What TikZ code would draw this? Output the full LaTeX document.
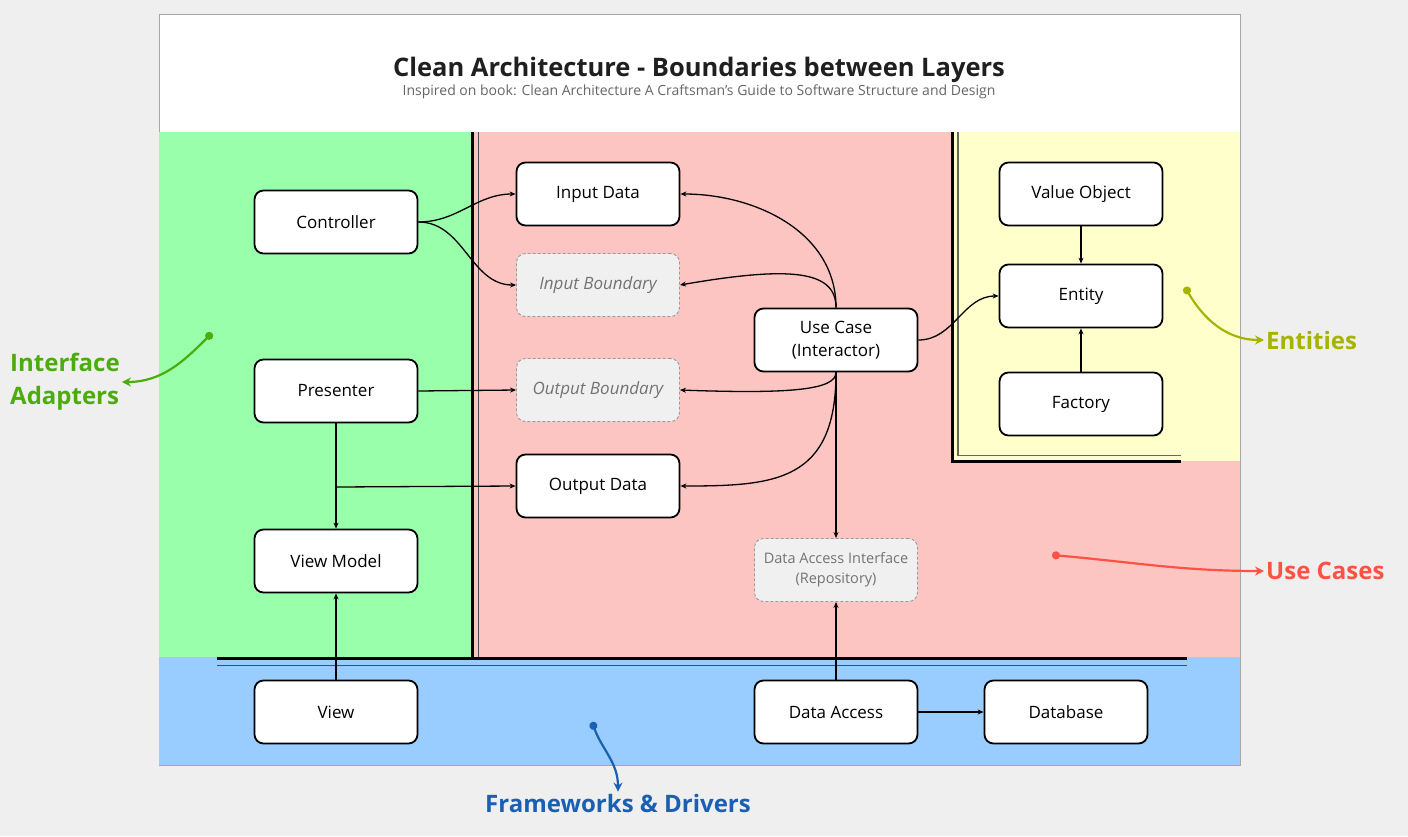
\documentclass[tikz,border=0pt]{standalone}
\usepackage{fontspec}
\setmainfont{Open Sans}
\usepackage{tikz}
\usetikzlibrary{arrows.meta, positioning}
\definecolor{bggray}{RGB}{239, 239, 239}
\definecolor{adaptgreen}{RGB}{153, 255, 170}
\definecolor{casepink}{RGB}{252, 197, 193}
\definecolor{entyellow}{RGB}{255, 255, 204}
\definecolor{frameblue}{RGB}{153, 204, 255}
\definecolor{labgreen}{RGB}{76, 172, 14}
\definecolor{labolive}{RGB}{166, 180, 0}
\definecolor{labred}{RGB}{255, 82, 68}
\definecolor{labblue}{RGB}{26, 95, 180}
\definecolor{boundgray}{RGB}{240, 240, 240}

\begin{document}
\begin{tikzpicture}[x=1pt, y=1pt,
  box/.style={draw, line width=1.8pt, rounded corners=9pt, fill=white, minimum width=163pt, minimum height=63pt, align=center, font=\fontsize{17}{21}\selectfont},
  bound/.style={box, draw=gray!80, line width=0.9pt, dash pattern=on 3pt off 2pt, fill=boundgray, text=black!55},
  link/.style={line width=1.3pt, -{Stealth[length=6pt, width=5pt]}},
  callout/.style={line width=2.2pt, {Circle[length=8pt]}-{Stealth[length=9pt, width=9pt]}},
  layer/.style={font=\fontsize{24}{33}\selectfont\bfseries, align=left, inner sep=2pt}]
  \useasboundingbox (0,0) rectangle (1408,-836);
  \fill[bggray] (0,0) rectangle (1408,-836);

  % Frame and layers
  \draw[fill=white, draw=black!35, line width=0.8pt] (159,-14) rectangle (1240,-765);
  \fill[adaptgreen] (159,-132) rectangle (474,-657);
  \fill[casepink] (474,-132) rectangle (1240,-657);
  \fill[entyellow] (952,-132) rectangle (1240,-461);
  \fill[frameblue] (159,-657) rectangle (1240,-765);

  % Title
  \node[font=\fontsize{25.5}{30}\selectfont\bfseries, text=black!88] (title) at (699,-70) {Clean Architecture - Boundaries between Layers};
  \node[font=\fontsize{14}{17}\selectfont, text=black!60] (subtitle) at (699,-92) {Inspired on book: Clean Architecture A Craftsman's Guide to Software Structure and Design};

  % Boundaries
  \draw[line width=3pt] (472,-132) -- (472,-657);
  \draw[line width=1pt, black!70] (478,-132) -- (478,-657);
  \draw[line width=3pt] (217,-658.5) -- (1187,-658.5);
  \draw[line width=1pt, black!70] (217,-665) -- (1187,-665);
  \draw[line width=3pt, line join=miter] (952.5,-132) -- (952.5,-461) -- (1181,-461);
  \draw[line width=1.2pt, black!60, line join=miter] (958,-132) -- (958,-455.5) -- (1181,-455.5);

  % Interface adapters
  \node[box] (ctrl) at (336,-222) {Controller};
  \node[box] (pres) at (336,-391) {Presenter};
  \node[box] (vmodel) at (336,-561) {View Model};

  % Use cases
  \node[box] (indata) at (598,-194) {Input Data};
  \node[bound, font=\fontsize{17}{21}\selectfont\itshape] (inbound) at (598,-285) {Input Boundary};
  \node[bound, font=\fontsize{17}{21}\selectfont\itshape] (outbound) at (598,-390) {Output Boundary};
  \node[box] (outdata) at (598,-486) {Output Data};
  \node[box, font=\fontsize{17}{23}\selectfont] (usecase) at (836,-340) {Use Case\\(Interactor)};
  \node[bound, font=\fontsize{14.5}{20}\selectfont] (dai) at (836,-570) {Data Access Interface\\(Repository)};

  % Entities
  \node[box] (vobj) at (1081,-194) {Value Object};
  \node[box] (entity) at (1081,-296) {Entity};
  \node[box] (factory) at (1081,-404) {Factory};

  % Frameworks & drivers
  \node[box] (view) at (336,-712) {View};
  \node[box] (daccess) at (836,-712) {Data Access};
  \node[box] (db) at (1066,-712) {Database};

  % Connectors
  \draw[link] (ctrl.east) to[out=0, in=180] (indata.west);
  \draw[link] (ctrl.east) to[out=0, in=180] (inbound.west);
  \draw[link] (usecase.north) to[out=90, in=0] (indata.east);
  \draw[link] (usecase.north) .. controls (836,-270) and (790,-266) .. (inbound.east);
  \draw[link] (usecase.south) .. controls (836,-390) and (790,-394) .. (outbound.east);
  \draw[link] (usecase.south) .. controls (836,-482) and (775,-486) .. (outdata.east);
  \draw[link] (usecase.south) -- (dai.north);
  \draw[link] (usecase.east) to[out=0, in=180] (entity.west);
  \draw[link] (vobj.south) -- (entity.north);
  \draw[link] (factory.north) -- (entity.south);
  \draw[link] (pres.east) -- (outbound.west);
  \draw[link] (pres.south) -- (vmodel.north);
  \coordinate (pvjoin) at (336,-487);
  \draw[link] (pvjoin) -- (outdata.west);
  \draw[link] (view.north) -- (vmodel.south);
  \draw[link] (daccess.north) -- (dai.south);
  \draw[link] (daccess.east) -- (db.west);

  % Layer labels
  \node[layer, text=labgreen, anchor=west] (ialab) at (8,-382) {Interface\\Adapters};
  \node[layer, text=labolive, anchor=west] (entlab) at (1264,-340) {Entities};
  \node[layer, text=labred, anchor=west] (uclab) at (1264,-571) {Use Cases};
  \node[layer, text=labblue] (fwlab) at (618,-803) {Frameworks \& Drivers};
  \coordinate (iadot) at (212,-333);
  \coordinate (entdot) at (1185,-287);
  \coordinate (ucdot) at (1052,-555);
  \coordinate (fwdot) at (592,-722);
  \draw[callout, labgreen] (iadot) to[out=225, in=0] (ialab.east);
  \draw[callout, labolive] (entdot) to[out=-60, in=180] (entlab.west);
  \draw[callout, labred] (ucdot) to[out=-5, in=180] (uclab.west);
  \draw[callout, labblue] (fwdot) to[out=-70, in=90] (fwlab.north);
\end{tikzpicture}
\end{document}
